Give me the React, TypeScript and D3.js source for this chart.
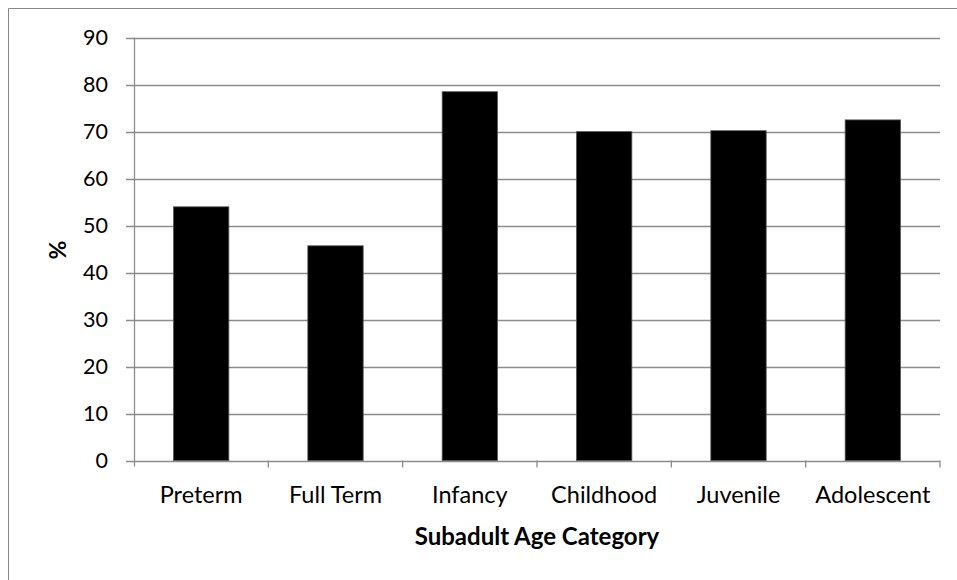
import React from "react";
import * as d3 from "d3";

const categories = ["Preterm", "Full Term", "Infancy", "Childhood", "Juvenile", "Adolescent"];
const values = [54.0, 45.7, 78.5, 70.0, 70.2, 72.5];
const yTicks = [0, 10, 20, 30, 40, 50, 60, 70, 80, 90];
const xTitle = "Subadult Age Category";
const yTitle = "%";

const W = 957;
const H = 580;
const FONT = "Lato, 'Noto Sans', sans-serif";

export default function App() {
  const left = 134;
  const right = 940;
  const top = 37.7;
  const bottom = 460.5;

  const x = d3.scaleBand<string>().domain(categories).range([left, right]).paddingInner(0.588).paddingOuter(0.294);
  const xb = d3.scaleBand<string>().domain(categories).range([left, right]);
  const y = d3.scaleLinear().domain([0, 90]).range([bottom, top]);

  return (
    <svg width={W} height={H} style={{ position: "absolute", left: 0, top: 0 }}>
      <rect x={0} y={0} width={W} height={H} fill="#fff" />
      <line x1={8.5} y1={8.5} x2={W} y2={8.5} stroke="#888" strokeWidth={1} />
      <line x1={8.5} y1={8.5} x2={8.5} y2={H} stroke="#888" strokeWidth={1} />
      {yTicks.map((t) => (
        <g key={t}>
          <line x1={left - 8} x2={right} y1={Math.round(y(t)) + 0.5} y2={Math.round(y(t)) + 0.5} stroke="#8c8c8c" strokeWidth={1.3} />
          <text x={108} y={y(t)} dy="0.36em" textAnchor="end" fontFamily={FONT} fontSize={21.5} fill="#000">
            {t}
          </text>
        </g>
      ))}
      <line x1={left + 0.5} x2={left + 0.5} y1={top} y2={bottom + 6} stroke="#8c8c8c" strokeWidth={1.3} />
      {categories.map((c) => (
        <line key={"t" + c} x1={(xb(c) as number) + xb.bandwidth()} x2={(xb(c) as number) + xb.bandwidth()} y1={bottom} y2={bottom + 7} stroke="#8c8c8c" strokeWidth={1.3} />
      ))}
      {categories.map((c, i) => (
        <rect key={c} x={x(c)} y={y(values[i])} width={x.bandwidth()} height={bottom - y(values[i])} fill="#000" stroke="#555" strokeWidth={0.8} />
      ))}
      {categories.map((c) => (
        <text key={"l" + c} x={(xb(c) as number) + xb.bandwidth() / 2} y={503} textAnchor="middle" fontFamily={FONT} fontSize={23.5} fill="#000">
          {c}
        </text>
      ))}
      <text x={(left + right) / 2} y={545} textAnchor="middle" fontFamily={FONT} fontSize={24} fontWeight="bold" fill="#000">
        {xTitle}
      </text>
      <text transform={`translate(66, 250) rotate(-90)`} textAnchor="middle" fontFamily={FONT} fontSize={23} fontWeight="bold" fill="#000">
        {yTitle}
      </text>
    </svg>
  );
}
